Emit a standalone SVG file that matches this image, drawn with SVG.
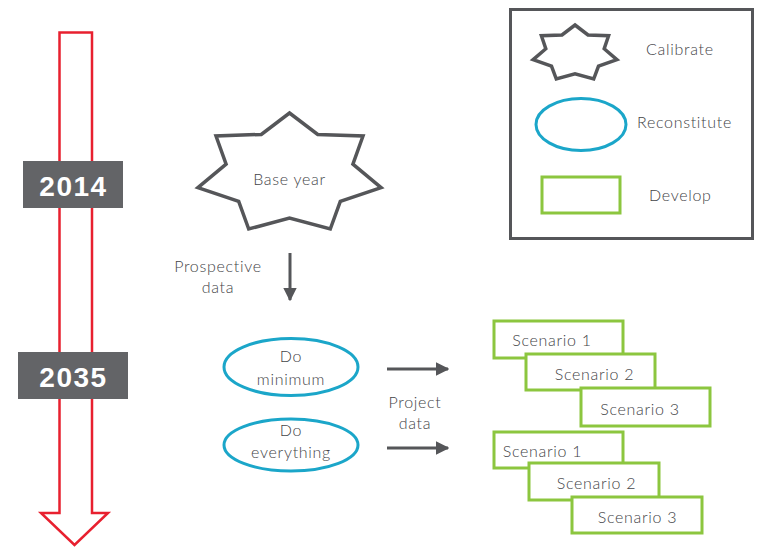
<svg xmlns="http://www.w3.org/2000/svg" width="757" height="548" viewBox="0 0 757 548">
  <style>
    .lbl { font-family: Lato, "Open Sans", "Liberation Sans", sans-serif; font-size: 16px; font-weight: 300; fill: #434447; letter-spacing: 0.7px; }
    .mid { text-anchor: middle; }
    .year { font-family: "Liberation Sans", Arial, sans-serif; font-weight: bold; font-size: 28px; fill: #ffffff; text-anchor: middle; letter-spacing: 1.5px; }
    .yearbox { fill: #636467; }
    .star { fill: #ffffff; stroke: #555659; stroke-width: 3.5; stroke-linejoin: miter; }
    .oval { fill: #ffffff; stroke: #1ba6c9; stroke-width: 3; }
    .box { fill: #ffffff; stroke: #8cc63f; stroke-width: 3; }
    .conn { stroke: #555659; stroke-width: 3; fill: none; }
  </style>
  <defs>
    <marker id="head" viewBox="0 0 10 10" refX="9" refY="5" markerWidth="4.5" markerHeight="4.5" orient="auto" markerUnits="strokeWidth">
      <path d="M0,0 L10,5 L0,10 Z" fill="#555659"/>
    </marker>
  </defs>

  <rect width="757" height="548" fill="#ffffff"/>

  <!-- timeline arrow -->
  <g id="timeline">
    <path d="M59.5,32.5 H92 V513 H108 L74.5,545 L41,513 H59.5 Z" fill="#ffffff" stroke="#e8202f" stroke-width="2.5" stroke-linejoin="miter"/>
  </g>
  <g id="year-2014">
    <rect class="yearbox" x="23" y="161" width="100" height="47"/>
    <text class="year" x="73.5" y="196">2014</text>
  </g>
  <g id="year-2035">
    <rect class="yearbox" x="18" y="352" width="110" height="47"/>
    <text class="year" x="73.5" y="387">2035</text>
  </g>

  <!-- calibrate: base year -->
  <g id="base-year">
    <polygon class="star" points="289.5,113 317.7,134.4 363,136 352.9,164.2 381.1,187.6 340.3,201.4 330.3,229 289.5,218 248.7,229 238.7,201.4 197.9,187.6 226.1,164.2 216,136 261.3,134.4"/>
    <text class="lbl mid" x="289.5" y="185">Base year</text>
  </g>

  <!-- reconstitute -->
  <g id="do-minimum">
    <ellipse class="oval" cx="291" cy="367" rx="67" ry="28.5"/>
    <text class="lbl mid" x="291" y="362">Do</text>
    <text class="lbl mid" x="291" y="385">minimum</text>
  </g>
  <g id="do-everything">
    <ellipse class="oval" cx="291" cy="445" rx="67" ry="26"/>
    <text class="lbl mid" x="291" y="436">Do</text>
    <text class="lbl mid" x="291" y="458">everything</text>
  </g>

  <!-- develop: scenarios for do minimum -->
  <g id="dm-scenario-1">
    <rect class="box" x="494" y="321" width="129" height="37"/>
    <text class="lbl mid" x="552" y="346">Scenario 1</text>
  </g>
  <g id="dm-scenario-2">
    <rect class="box" x="526" y="354" width="129" height="36"/>
    <text class="lbl mid" x="594.5" y="380">Scenario 2</text>
  </g>
  <g id="dm-scenario-3">
    <rect class="box" x="581" y="388" width="129" height="38"/>
    <text class="lbl mid" x="640" y="415">Scenario 3</text>
  </g>

  <!-- develop: scenarios for do everything -->
  <g id="de-scenario-1">
    <rect class="box" x="494" y="432" width="129" height="36"/>
    <text class="lbl mid" x="542.5" y="457">Scenario 1</text>
  </g>
  <g id="de-scenario-2">
    <rect class="box" x="529" y="463" width="130" height="37"/>
    <text class="lbl mid" x="596.5" y="489">Scenario 2</text>
  </g>
  <g id="de-scenario-3">
    <rect class="box" x="572" y="497" width="130" height="36"/>
    <text class="lbl mid" x="637.5" y="523">Scenario 3</text>
  </g>

  <!-- connectors -->
  <g id="connectors">
    <line class="conn" x1="290" y1="253" x2="290" y2="300" marker-end="url(#head)"/>
    <text class="lbl mid" x="218" y="272">Prospective</text>
    <text class="lbl mid" x="218" y="293">data</text>
    <line class="conn" x1="387" y1="369" x2="448" y2="369" marker-end="url(#head)"/>
    <line class="conn" x1="387" y1="448" x2="448" y2="448" marker-end="url(#head)"/>
    <text class="lbl mid" x="415" y="408">Project</text>
    <text class="lbl mid" x="415" y="429">data</text>
  </g>

  <!-- legend -->
  <g id="legend">
    <rect x="510.5" y="9.5" width="242" height="229" fill="none" stroke="#555659" stroke-width="3"/>
    <polygon class="star" points="575,25 588,34.9 608.6,35.7 604.2,48.8 616.9,59.7 598.5,66.2 593.7,79 575,73.9 556.3,79 551.5,66.2 533.1,59.7 545.8,48.8 541.4,35.7 562,34.9"/>
    <text class="lbl" x="646" y="55">Calibrate</text>
    <ellipse class="oval" cx="581" cy="124.5" rx="45" ry="26"/>
    <text class="lbl" x="637" y="128">Reconstitute</text>
    <rect class="box" x="542" y="177" width="78" height="36"/>
    <text class="lbl" x="649" y="201" letter-spacing="1.5">Develop</text>
  </g>
</svg>
